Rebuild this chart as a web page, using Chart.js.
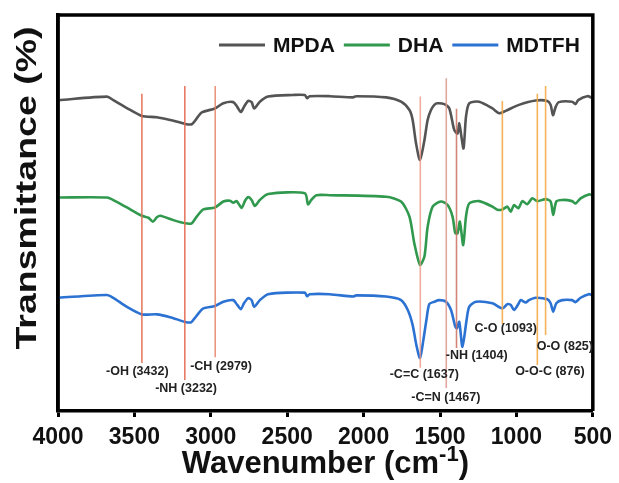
<!DOCTYPE html>
<html>
<head>
<meta charset="utf-8">
<script src="https://cdn.jsdelivr.net/npm/chart.js@4.4.1/dist/chart.umd.min.js"></script>
<style>
html,body{margin:0;padding:0;background:#fff;}
#wrap{width:619px;height:483px;}
</style>
</head>
<body>
<div id="wrap"><canvas id="c" width="619" height="483"></canvas></div>
<script>
// ---- data (wavenumber in cm-1, transmittance in arbitrary offset %) ----
const seriesNames = ['MPDA', 'DHA', 'MDTFH'];

const mpdaWave = [3995,3679,3638,3549,3451,3353,3266,3168,3125,3092,3059,2973,2918,2853,2827,2803,2783,2755,2733,2716,2679,2625,2462,2385,2370,2353,2222,2070,2048,1852,1755,1700,1679,1657,1631,1602,1581,1559,1537,1516,1472,1439,1407,1385,1374,1363,1346,1330,1309,1244,1157,1113,1070,983,874,798,776,761,743,722,635,613,596,537,500];
const mpdaT    = [78.5,79.4,78.5,76.5,74.5,74.2,73.5,72.5,72.4,73.9,75.4,76.4,77.7,78.0,76.8,75.5,76.8,78.3,78.0,76.4,78.1,79.4,79.8,79.8,79.0,79.5,79.5,79.2,79.5,79.2,78.1,76.0,73.5,67.6,63.4,68.4,73.5,76.0,77.3,77.7,77.5,76.4,71.0,70.1,72.7,70.1,66.3,74.3,77.7,78.1,76.4,75.2,75.8,77.3,78.4,78.3,77.3,74.7,76.8,78.0,78.1,77.5,78.5,79.5,79.0];

const dhaWave = [3995,3679,3625,3549,3451,3408,3379,3353,3331,3245,3168,3125,3092,3049,2973,2918,2875,2853,2831,2798,2776,2755,2733,2712,2679,2625,2385,2364,2342,2309,2222,1852,1755,1700,1668,1631,1602,1581,1548,1494,1450,1418,1400,1385,1370,1348,1330,1309,1244,1157,1125,1092,1059,1037,1016,987,961,929,896,863,809,776,759,739,700,635,613,580,526,500];
const dhaT    = [53.9,53.9,53.0,51.4,49.3,48.8,47.8,48.9,49.3,48.2,47.4,47.4,49.1,50.9,51.4,52.9,53.1,52.6,53.0,51.3,53.1,54.0,53.3,51.8,53.3,54.8,55.0,52.2,53.3,54.5,54.5,54.1,52.9,49.1,42.3,36.9,39.0,46.5,51.6,52.9,52.0,49.1,44.9,44.9,47.8,41.9,49.1,52.4,53.0,51.6,50.8,50.9,51.6,50.3,52.0,51.2,53.0,52.2,53.7,53.0,53.5,52.9,49.5,52.9,53.3,53.0,52.4,53.7,54.7,54.5];

const mdtfhWave = [3995,3679,3636,3549,3451,3353,3266,3168,3129,3092,3049,2973,2918,2853,2827,2803,2783,2755,2733,2716,2679,2625,2385,2370,2353,2222,2070,2048,1852,1755,1711,1679,1655,1631,1609,1589,1570,1537,1505,1461,1428,1400,1389,1374,1353,1326,1309,1265,1157,1092,1059,1037,1016,987,972,939,918,874,798,776,759,739,700,635,613,580,526,500];
const mdtfhT    = [28.6,29.3,28.5,26.3,24.4,24.4,23.7,22.5,22.4,24.1,25.9,26.5,27.6,28.0,26.8,25.7,27.2,28.5,28.0,26.3,28.0,29.5,29.9,29.0,29.5,29.5,28.9,29.2,28.9,28.0,25.5,21.7,16.7,13.4,17.9,23.0,27.0,27.6,28.0,27.6,25.5,21.3,20.9,22.5,16.2,23.0,26.3,27.6,27.2,25.9,27.0,26.8,25.5,27.0,28.0,27.4,28.0,28.6,28.2,27.2,25.1,27.2,28.0,28.0,27.5,28.6,29.5,29.2];

// band assignment markers
const annWave      = [3451, 3170, 2971, 1629, 1459, 1392, 1092, 863, 809];
const annTop       = [80.1, 82.1, 82.1, 79.4, 84.0, 76.3, 78.3, 80.1, 82.1];
const annBottom    = [12.1, 7.8, 13.6, 10.9, 5.8, 15.9, 22.0, 11.6, 19.2];
const annLabel     = ['-OH (3432)','-NH (3232)','-CH (2979)','-C=C (1637)','-C=N (1467)','-NH (1404)','C-O (1093)','O-O-C (876)','O-O (825)'];
const annLabelWave = [3481, 3162, 2933, 1603, 1462, 1260, 1070, 781, 683];
const annLabelT    = [9.9, 5.6, 11.2, 9.3, 3.4, 14.0, 20.7, 9.9, 16.2];

const xTickStart = 4000, xTickEnd = 500, xTickStep = 500;

// ---- styles ----
const seriesColors = ['#545454', '#30994d', '#2c72d3'];
const annColors = ['rgba(228,110,85,0.9)','rgba(228,110,85,0.9)','rgba(232,130,105,0.85)',
                   'rgba(236,150,135,0.8)','rgba(220,150,140,0.85)','rgba(205,110,95,0.85)',
                   'rgba(244,170,70,0.9)','rgba(244,170,70,0.9)','rgba(244,170,70,0.9)'];
const FONT = '"Liberation Sans", Arial, Helvetica, sans-serif';

function pts(w, t){ return w.map((x,i)=>({x:x, y:t[i]})); }

const datasets = [];
annWave.forEach((w,i)=>{
  datasets.push({
    label: annLabel[i], isAnn: true,
    data: [{x:w, y:annTop[i]}, {x:w, y:annBottom[i]}],
    borderColor: annColors[i], borderWidth: 1.6, pointRadius: 0, order: 0
  });
});
[[mpdaWave,mpdaT],[dhaWave,dhaT],[mdtfhWave,mdtfhT]].forEach((s,i)=>{
  datasets.push({
    label: seriesNames[i],
    data: pts(s[0], s[1]),
    borderColor: seriesColors[i], borderWidth: 2.6, pointRadius: 0,
    tension: 0.25, order: 1
  });
});

const overlay = {
  id: 'overlay',
  afterDraw(chart){
    const ctx = chart.ctx, a = chart.chartArea;
    const xs = chart.scales.x, ys = chart.scales.y;
    ctx.save();
    // frame
    ctx.strokeStyle = '#000'; ctx.lineWidth = 3.5;
    ctx.beginPath();
    ctx.moveTo(a.left, a.bottom); ctx.lineTo(a.left, a.top); ctx.lineTo(a.right, a.top); ctx.lineTo(a.right, a.bottom);
    ctx.stroke();
    // annotation labels
    ctx.fillStyle = '#222'; ctx.font = 'bold 12.5px ' + FONT;
    ctx.textAlign = 'center'; ctx.textBaseline = 'middle';
    annLabel.forEach((l,i)=>{
      ctx.fillText(l, xs.getPixelForValue(annLabelWave[i]), ys.getPixelForValue(annLabelT[i]));
    });
    // legend
    ctx.font = 'bold 21px ' + FONT; ctx.textAlign = 'left';
    let x = 219; const y = 45;
    chart.data.datasets.filter(d=>!d.isAnn).forEach(d=>{
      ctx.strokeStyle = d.borderColor; ctx.lineWidth = 3;
      ctx.beginPath(); ctx.moveTo(x, y); ctx.lineTo(x+46, y); ctx.stroke();
      x += 54;
      ctx.fillStyle = '#111';
      ctx.fillText(d.label, x, y+1);
      x += ctx.measureText(d.label).width + 9;
    });
    // x title with superscript
    ctx.fillStyle = '#111';
    ctx.textBaseline = 'alphabetic';
    const main = 'Wavenumber (cm', sup = '-1', end = ')';
    ctx.font = 'bold 31px ' + FONT;
    const w1 = ctx.measureText(main).width, w3 = ctx.measureText(end).width;
    ctx.font = 'bold 22px ' + FONT;
    const w2 = ctx.measureText(sup).width;
    let tx = (a.left + a.right)/2 - (w1+w2+w3)/2;
    const ty = 473;
    ctx.font = 'bold 31px ' + FONT; ctx.fillText(main, tx, ty); tx += w1;
    ctx.font = 'bold 22px ' + FONT; ctx.fillText(sup, tx, ty-12); tx += w2;
    ctx.font = 'bold 31px ' + FONT; ctx.fillText(end, tx, ty);
    // y title
    ctx.translate(28, 188); ctx.rotate(-Math.PI/2); ctx.scale(1.25, 1);
    ctx.textAlign = 'center'; ctx.textBaseline = 'middle';
    ctx.font = 'bold 30px ' + FONT;
    ctx.fillText('Transmittance (%)', 0, 0);
    ctx.restore();
  }
};

new Chart(document.getElementById('c'), {
  type: 'line',
  data: { datasets },
  options: {
    responsive: false, animation: false,
    layout: { padding: { left: 0, right: 25, top: 15, bottom: 0 } },
    plugins: { legend: { display: false }, tooltip: { enabled: false } },
    scales: {
      x: {
        type: 'linear', reverse: true, min: xTickEnd, max: xTickStart,
        afterFit: s => { s.height = 72; },
        afterBuildTicks: s => { const t=[]; for(let v=xTickStart; v>=xTickEnd; v-=xTickStep) t.push({value:v}); s.ticks = t; },
        border: { display: true, color: '#000', width: 3.5 },
        grid: { drawOnChartArea: false, drawTicks: true, tickLength: 6, tickWidth: 3, color: '#000' },
        ticks: { color: '#111', padding: 7, maxRotation: 0, autoSkip: false,
                 callback: v => String(v),
                 font: { family: FONT, size: 23, weight: 'bold' } }
      },
      y: {
        type: 'linear', min: 0, max: 100,
        afterFit: s => { s.width = 58; },
        border: { display: true, color: '#000', width: 3.5 },
        grid: { display: false, drawTicks: false },
        ticks: { display: false }
      }
    }
  },
  plugins: [overlay]
});
</script>
</body>
</html>
